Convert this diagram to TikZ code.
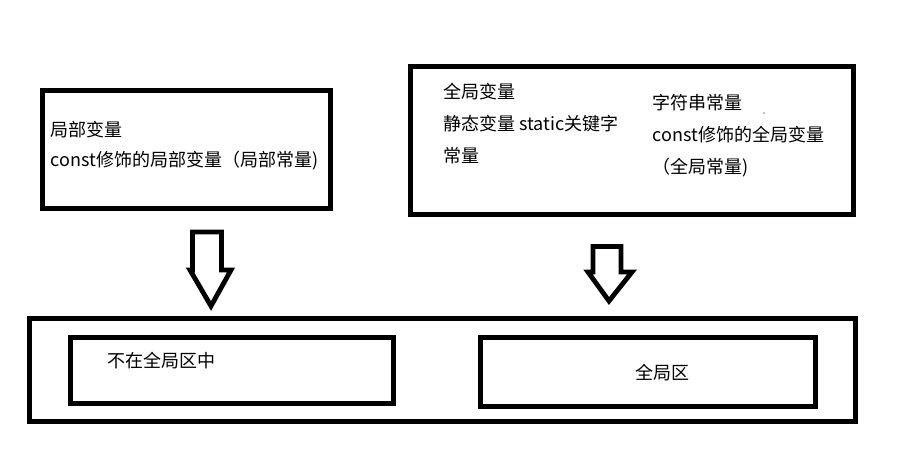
\documentclass[tikz,border=0pt]{standalone}
\usepackage{fontspec}
\setmainfont{Noto Sans CJK SC}
\begin{document}
\begin{tikzpicture}[x=1pt,y=-1pt,
  box/.style={draw=black,line width=5pt,fill=none,inner sep=0pt,line join=miter},
  lbl/.style={anchor=west,inner sep=0pt,font=\fontsize{18}{20}\selectfont,text=black},
  blockarrow/.style={draw=black,line width=4.8pt,fill=white,line join=miter,miter limit=10}]
\useasboundingbox[fill=white] (0,0) rectangle (923,466);
% top boxes
\node[box,minimum width=287.5pt,minimum height=118pt] (b1) at (186.25,149) {};
\node[box,minimum width=443pt,minimum height=148pt] (b2) at (632,140.5) {};
% bottom boxes
\node[box,minimum width=825.5pt,minimum height=102.5pt] (outer) at (442.25,369.75) {};
\node[box,minimum width=323.5pt,minimum height=65.5pt] (inl) at (231.75,370.25) {};
\node[box,minimum width=335.5pt,minimum height=68.5pt] (inr) at (647.75,371.75) {};
% texts in box 1
\node[lbl] (t1) at (50.5,130) {局部变量};
\node[lbl] (t2) at (50.5,161) {const修饰的局部变量（局部常量)};
% texts in box 2
\node[lbl] (t3) at (443,92) {全局变量};
\node[lbl] (t4) at (443,124) {静态变量 static关键字};
\node[lbl] (t5) at (443,156) {常量};
\node[lbl] (t6) at (652.5,102.5) {字符串常量};
\node[lbl] (t7) at (652.5,135) {const修饰的全局变量};
\node[lbl] (t8) at (652.5,167.5) {（全局常量)};
\fill[black] (764,113) circle (0.7);
% bottom texts
\node[lbl] (t9) at (107,361) {不在全局区中};
\node[lbl] (t10) at (635,373) {全局区};
% block arrows
\draw[blockarrow] (192.5,232) -- (221.5,232) -- (221.5,270) -- (231,270) -- (211,306) -- (190,270) -- (192.5,270) -- cycle;
\draw[blockarrow] (593,246.5) -- (621,246.5) -- (621,272) -- (632,272) -- (609,301) -- (588,272) -- (593,272) -- cycle;
\end{tikzpicture}
\end{document}
